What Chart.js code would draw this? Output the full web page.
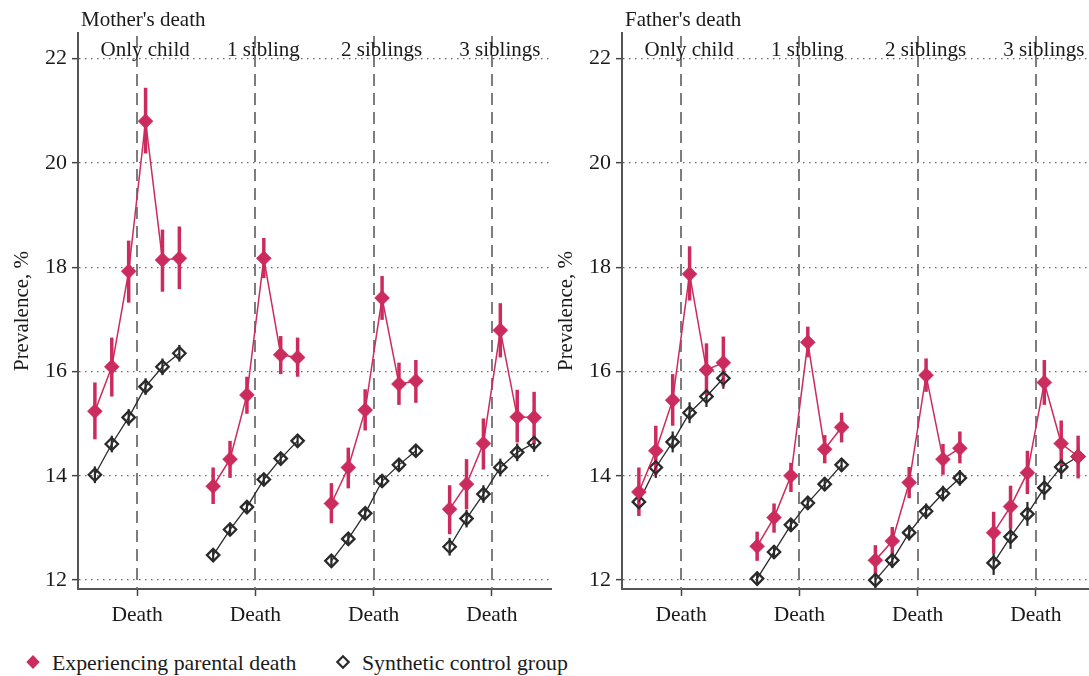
<!DOCTYPE html>
<html>
<head>
<meta charset="utf-8">
<script src="https://cdn.jsdelivr.net/npm/chart.js@4.4.1/dist/chart.umd.min.js"></script>
<style>
html, body { margin: 0; padding: 0; background: #fff; width: 1089px; height: 676px; overflow: hidden; }
#left { position: absolute; left: 0; top: 0; }
#right { position: absolute; left: 544px; top: 0; }
#legend { position: absolute; left: 0; top: 640px; }
</style>
</head>
<body>
<canvas id="left" width="560" height="640"></canvas>
<canvas id="right" width="560" height="640"></canvas>
<svg id="legend" width="700" height="36" font-family="'Liberation Serif', serif" font-size="21.8" fill="#1a1a1a">
  <polygon points="33,15 39.7,22 33,29 26.3,22" fill="#cc2b5e"/>
  <text x="52" y="30">Experiencing parental death</text>
  <polygon points="343,16.3 348.7,22 343,27.7 337.3,22" fill="none" stroke="#2a2a2a" stroke-width="2.2"/>
  <text x="362" y="30">Synthetic control group</text>
</svg>
<script>
// groups of children by number of siblings, years relative to the parent's death
const groups = ['Only child', '1 sibling', '2 siblings', '3 siblings'];
const periods = [-3, -2, -1, 0, 1, 2];
const yTicks = [12, 14, 16, 18, 20, 22];

// Mother's death: experiencing parental death (mean, lower, upper CI)
const motherExp = [
  [15.24, 16.09, 17.92, 20.80, 18.14, 18.17],
  [13.80, 14.32, 15.55, 18.17, 16.32, 16.27],
  [13.47, 14.16, 15.26, 17.41, 15.76, 15.82],
  [13.36, 13.84, 14.62, 16.79, 15.13, 15.12]
];
const motherExpLo = [
  [14.70, 15.52, 17.32, 20.18, 17.53, 17.58],
  [13.46, 13.96, 15.19, 17.79, 15.95, 15.90],
  [13.09, 13.76, 14.87, 16.99, 15.36, 15.40],
  [12.88, 13.36, 14.12, 16.27, 14.64, 14.61]
];
const motherExpHi = [
  [15.79, 16.65, 18.51, 21.44, 18.72, 18.78],
  [14.16, 14.67, 15.90, 18.56, 16.68, 16.65],
  [13.86, 14.54, 15.66, 17.83, 16.17, 16.22],
  [13.82, 14.32, 15.10, 17.31, 15.65, 15.61]
];
// Mother's death: synthetic control group
const motherCtl = [
  [14.02, 14.61, 15.12, 15.71, 16.09, 16.35],
  [12.48, 12.97, 13.40, 13.93, 14.33, 14.67],
  [12.37, 12.79, 13.28, 13.90, 14.21, 14.48],
  [12.64, 13.18, 13.65, 14.16, 14.45, 14.63]
];
const motherCtlLo = [
  [13.86, 14.45, 14.96, 15.55, 15.93, 16.19],
  [12.36, 12.85, 13.28, 13.81, 14.21, 14.55],
  [12.25, 12.67, 13.16, 13.78, 14.09, 14.36],
  [12.47, 13.01, 13.48, 13.99, 14.28, 14.46]
];
const motherCtlHi = [
  [14.18, 14.77, 15.28, 15.87, 16.25, 16.51],
  [12.60, 13.09, 13.52, 14.05, 14.45, 14.79],
  [12.49, 12.91, 13.40, 14.02, 14.33, 14.60],
  [12.81, 13.35, 13.82, 14.33, 14.62, 14.80]
];

// Father's death: experiencing parental death
const fatherExp = [
  [13.69, 14.48, 15.45, 17.87, 16.03, 16.17],
  [12.65, 13.20, 14.00, 16.56, 14.51, 14.93],
  [12.38, 12.75, 13.87, 15.93, 14.32, 14.53],
  [12.91, 13.41, 14.06, 15.79, 14.62, 14.37]
];
const fatherExpLo = [
  [13.23, 14.02, 14.96, 17.36, 15.55, 15.71],
  [12.37, 12.91, 13.69, 16.27, 14.24, 14.64],
  [12.10, 12.46, 13.57, 15.61, 14.02, 14.24],
  [12.51, 12.99, 13.65, 15.36, 14.19, 13.95]
];
const fatherExpHi = [
  [14.16, 14.96, 15.95, 18.40, 16.54, 16.67],
  [12.93, 13.47, 14.25, 16.86, 14.78, 15.21],
  [12.67, 13.02, 14.17, 16.25, 14.61, 14.85],
  [13.31, 13.81, 14.48, 16.22, 15.06, 14.77]
];
// Father's death: synthetic control group
const fatherCtl = [
  [13.50, 14.16, 14.65, 15.21, 15.52, 15.87],
  [12.03, 12.54, 13.06, 13.48, 13.84, 14.21],
  [12.00, 12.38, 12.91, 13.32, 13.66, 13.96],
  [12.33, 12.83, 13.27, 13.77, 14.17, 14.37]
];
const fatherCtlLo = [
  [13.30, 13.96, 14.45, 15.01, 15.32, 15.67],
  [11.90, 12.41, 12.93, 13.35, 13.71, 14.08],
  [11.85, 12.23, 12.76, 13.17, 13.51, 13.81],
  [12.10, 12.60, 13.04, 13.54, 13.94, 14.14]
];
const fatherCtlHi = [
  [13.70, 14.36, 14.85, 15.41, 15.72, 16.07],
  [12.16, 12.67, 13.19, 13.61, 13.97, 14.34],
  [12.15, 12.53, 13.06, 13.47, 13.81, 14.11],
  [12.56, 13.06, 13.50, 14.00, 14.40, 14.60]
];

const RED = '#cc2b5e';
const DARK = '#2a2a2a';
const GROUP_GAP = 7;
const FONT = "'Liberation Serif', 'Times New Roman', serif";

Chart.defaults.font.family = FONT;
Chart.defaults.font.size = 21;
Chart.defaults.color = '#1a1a1a';

function xPos(g, k) {
  return g * GROUP_GAP + periods[k] + 0.5;
}

const overlay = {
  id: 'overlay',
  beforeDatasetsDraw(chart, args, opts) {
    const {ctx, chartArea, scales: {x, y}} = chart;
    ctx.save();
    // dashed line at the death of the parent
    ctx.strokeStyle = '#707070';
    ctx.lineWidth = 1.8;
    ctx.setLineDash([12, 7]);
    groups.forEach((name, g) => {
      const px = Math.round(x.getPixelForValue(g * GROUP_GAP));
      ctx.beginPath();
      ctx.moveTo(px, chartArea.top + 3);
      ctx.lineTo(px, chartArea.bottom);
      ctx.stroke();
    });
    ctx.setLineDash([]);
    // confidence intervals
    opts.bars.forEach(b => {
      ctx.strokeStyle = b.color;
      ctx.lineWidth = b.width;
      b.lo.forEach((row, g) => {
        row.forEach((lo, k) => {
          const px = x.getPixelForValue(xPos(g, k));
          ctx.beginPath();
          ctx.moveTo(px, y.getPixelForValue(lo));
          ctx.lineTo(px, y.getPixelForValue(b.hi[g][k]));
          ctx.stroke();
        });
      });
    });
    // group labels
    ctx.fillStyle = '#1a1a1a';
    ctx.font = '21px ' + FONT;
    ctx.textAlign = 'center';
    ctx.textBaseline = 'alphabetic';
    groups.forEach((name, g) => {
      ctx.fillText(name, x.getPixelForValue(g * GROUP_GAP) + 8, 56);
    });
    ctx.restore();
  },
  afterDraw(chart, args, opts) {
    const {ctx, chartArea} = chart;
    ctx.save();
    ctx.fillStyle = '#1a1a1a';
    ctx.font = '21px ' + FONT;
    ctx.textAlign = 'left';
    ctx.textBaseline = 'alphabetic';
    ctx.fillText(opts.title, chartArea.left + 3, 26);
    ctx.restore();
  }
};

function buildDatasets(exp, ctl) {
  const sets = [];
  exp.forEach((vals, g) => {
    sets.push({
      data: vals.map((v, k) => ({x: xPos(g, k), y: v})),
      showLine: true,
      borderColor: RED,
      borderWidth: 1.5,
      pointStyle: 'rectRot',
      pointRadius: 7.5,
      pointBackgroundColor: RED,
      pointBorderColor: RED,
      pointBorderWidth: 0.5
    });
  });
  ctl.forEach((vals, g) => {
    sets.push({
      data: vals.map((v, k) => ({x: xPos(g, k), y: v})),
      showLine: true,
      borderColor: DARK,
      borderWidth: 1.3,
      pointStyle: 'rectRot',
      pointRadius: 6.2,
      pointBackgroundColor: 'rgba(255,255,255,0)',
      pointBorderColor: DARK,
      pointBorderWidth: 2.3
    });
  });
  return sets;
}

function makePanel(id, title, exp, expLo, expHi, ctl, ctlLo, ctlHi) {
  return new Chart(document.getElementById(id), {
    type: 'scatter',
    data: { datasets: buildDatasets(exp, ctl) },
    options: {
      responsive: false,
      animation: false,
      layout: { padding: { top: 33, left: 0, right: 9, bottom: 0 } },
      plugins: {
        legend: { display: false },
        tooltip: { enabled: false },
        overlay: {
          title: title,
          bars: [
            { lo: ctlLo, hi: ctlHi, color: DARK, width: 2.2 },
            { lo: expLo, hi: expHi, color: RED, width: 3.5 }
          ]
        }
      },
      scales: {
        x: {
          type: 'linear',
          min: -3.5,
          max: 24.5,
          afterBuildTicks: s => { s.ticks = groups.map((n, g) => ({value: g * GROUP_GAP})); },
          afterFit: s => { s.height = 51; },
          ticks: { autoSkip: false, maxRotation: 0, padding: 6, font: { size: 21.5 }, callback: () => 'Death' },
          grid: { drawOnChartArea: false, tickLength: 7, tickColor: '#444', tickWidth: 1.5 },
          border: { color: '#555', width: 2 }
        },
        y: {
          min: 11.83,
          max: 22.49,
          afterBuildTicks: s => { s.ticks = yTicks.map(v => ({value: v})); },
          afterFit: s => { s.width = 78; },
          ticks: { padding: 5, font: { size: 22 } },
          title: { display: true, text: 'Prevalence, %', padding: { top: 10, bottom: 0 } },
          grid: { color: '#6a6a6a', lineWidth: 1.3, tickLength: 6, tickColor: '#444', tickWidth: 1.5, tickBorderDash: [] },
          border: { color: '#555', width: 2, dash: [1.5, 4.5] }
        }
      }
    },
    plugins: [overlay]
  });
}

makePanel('left', "Mother's death", motherExp, motherExpLo, motherExpHi, motherCtl, motherCtlLo, motherCtlHi);
makePanel('right', "Father's death", fatherExp, fatherExpLo, fatherExpHi, fatherCtl, fatherCtlLo, fatherCtlHi);
</script>
</body>
</html>
